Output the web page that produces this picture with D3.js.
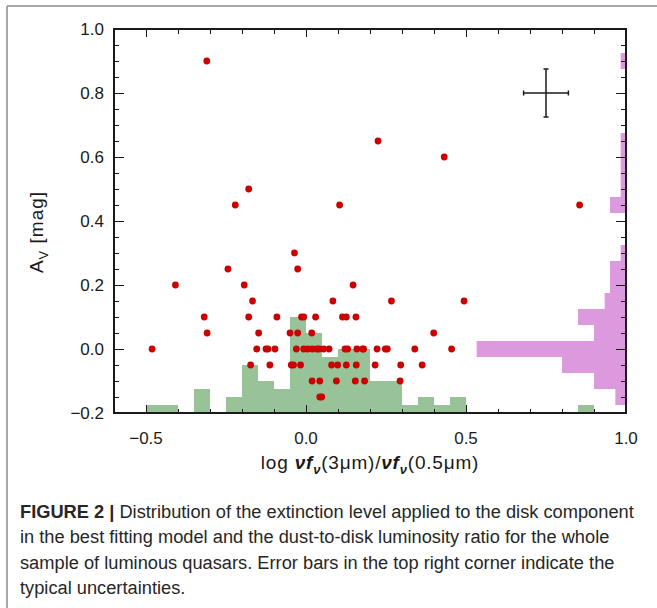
<!DOCTYPE html>
<html>
  <head>
    <script src="https://d3js.org/d3.v7.min.js"></script>
    <style>
      body { margin: 0; background: #fff; }
      .axis path, .axis line {
        fill: none;
        stroke: #1a1a1a;
        shape-rendering: crispEdges;
      }
      .tick-label {
        font-family: "Liberation Sans", sans-serif;
        font-size: 17px;
        fill: #1a1a1a;
      }
      .title {
        font-family: "Liberation Sans", sans-serif;
        font-size: 19px;
        fill: #1a1a1a;
      }
      .caption {
        font-family: "Liberation Sans", sans-serif;
        font-size: 19px;
        fill: #262626;
      }
    </style>
  </head>
  <body>
    <script>
      // scatter points: log nuFnu(3um)/nuFnu(0.5um) vs A_V
      const pointX = [-0.31, -0.221, -0.179, 0.105, 0.225, 0.432, 0.855,
        -0.036, -0.026, -0.244,
        -0.408, -0.193, 0.147,
        -0.167, 0.084, 0.267, 0.494,
        -0.318, -0.179, -0.091, -0.014, -0.007, 0.03, 0.114, 0.126, 0.156,
        -0.309, -0.148, -0.05, -0.026, 0.018, 0.399,
        -0.481, -0.154, -0.125, -0.119, -0.097, -0.03, -0.007, 0.005, 0.02, 0.034, 0.041, 0.055, 0.072,
        0.122, 0.13, 0.159, 0.177, 0.18, 0.222, 0.248, 0.254, 0.34, 0.455,
        -0.173, -0.113, -0.046, -0.039, -0.017, 0.08, 0.099, 0.126, 0.157, 0.216, 0.296, 0.363,
        0.019, 0.043, 0.095, 0.154, 0.183, 0.294,
        0.043, 0.049];
      const pointY = [0.9, 0.45, 0.5, 0.45, 0.65, 0.6, 0.45,
        0.3, 0.25, 0.25,
        0.2, 0.2, 0.2,
        0.15, 0.15, 0.15, 0.15,
        0.1, 0.1, 0.1, 0.1, 0.1, 0.1, 0.1, 0.1, 0.1,
        0.05, 0.05, 0.05, 0.05, 0.05, 0.05,
        0, 0, 0, 0, 0, 0, 0, 0, 0, 0, 0, 0, 0,
        0, 0, 0, 0, 0, 0, 0, 0, 0, 0,
        -0.05, -0.05, -0.05, -0.05, -0.05, -0.05, -0.05, -0.05, -0.05, -0.05, -0.05, -0.05,
        -0.1, -0.1, -0.1, -0.1, -0.1, -0.1,
        -0.15, -0.15];

      // histogram of x (lower bin edges, width 0.05)
      const xBinStart = [-0.5, -0.45, -0.35, -0.25, -0.2, -0.15, -0.1, -0.05, 0.0, 0.05, 0.1, 0.15,
        0.2, 0.25, 0.3, 0.35, 0.4, 0.45, 0.85];
      const xBinCount = [1, 1, 3, 2, 6, 4, 3, 12, 10, 7, 8, 8, 4, 4, 1, 2, 1, 2, 1];

      // histogram of A_V (bin centres, width 0.05)
      const yBinCenter = [0.9, 0.65, 0.6, 0.55, 0.5, 0.45, 0.3, 0.25, 0.2, 0.15, 0.1, 0.05, 0.0, -0.05, -0.1, -0.15];
      const yBinCount = [1, 1, 1, 1, 1, 3, 1, 3, 3, 4, 9, 6, 28, 12, 6, 2];

      const binW = 0.05;
      const errCenter = [0.75, 0.8];
      const errSize = [0.07, 0.075];

      const xMajor = [-0.5, 0.0, 0.5, 1.0];
      const yMajor = [-0.2, 0.0, 0.2, 0.4, 0.6, 0.8, 1.0];

      const width = 657, height = 608;
      const pLeft = 114, pRight = 626, pTop = 29, pBottom = 413;

      const x = d3.scaleLinear().domain([-0.6, 1.0]).range([pLeft, pRight]);
      const y = d3.scaleLinear().domain([-0.2, 1.0]).range([pBottom, pTop]);
      const xCount = d3.scaleLinear().domain([0, 48]).range([pBottom, pTop]);
      const yCount = d3.scaleLinear().domain([0, 96]).range([pRight, pLeft]);

      const svg = d3.select('body').append('svg')
        .attr('width', width)
        .attr('height', height);

      // page frame
      svg.append('line').attr('x1', 7).attr('x2', width).attr('y1', 6).attr('y2', 6)
        .attr('stroke', '#a8a8a8').attr('stroke-width', 2);
      svg.append('line').attr('x1', 7).attr('x2', 7).attr('y1', 6).attr('y2', height)
        .attr('stroke', '#a8a8a8').attr('stroke-width', 2);

      // green histogram
      svg.selectAll('.xbar')
        .data(xBinStart)
        .enter()
        .append('rect')
        .attr('class', 'xbar')
        .attr('x', d => x(d))
        .attr('width', d => x(d + binW) - x(d))
        .attr('y', (d, i) => xCount(xBinCount[i]))
        .attr('height', (d, i) => xCount(0) - xCount(xBinCount[i]))
        .attr('fill', '#98c298');

      // pink histogram
      svg.selectAll('.ybar')
        .data(yBinCenter)
        .enter()
        .append('rect')
        .attr('class', 'ybar')
        .attr('x', (d, i) => yCount(yBinCount[i]))
        .attr('width', (d, i) => yCount(0) - yCount(yBinCount[i]))
        .attr('y', d => y(d + binW / 2))
        .attr('height', d => y(d - binW / 2) - y(d + binW / 2))
        .attr('fill', '#dd99dd');

      // points
      svg.selectAll('.pt')
        .data(pointX)
        .enter()
        .append('circle')
        .attr('class', 'pt')
        .attr('cx', d => x(d))
        .attr('cy', (d, i) => y(pointY[i]))
        .attr('r', 3.4)
        .attr('fill', '#cc0000');

      // typical error bars
      const eb = svg.append('g').attr('stroke', '#1a1a1a').attr('stroke-width', 1.5);
      eb.append('line')
        .attr('x1', x(errCenter[0] - errSize[0])).attr('x2', x(errCenter[0] + errSize[0]))
        .attr('y1', y(errCenter[1])).attr('y2', y(errCenter[1]));
      eb.append('line')
        .attr('x1', x(errCenter[0])).attr('x2', x(errCenter[0]))
        .attr('y1', y(errCenter[1] - errSize[1])).attr('y2', y(errCenter[1] + errSize[1]));
      [-1, 1].forEach(s => {
        eb.append('line')
          .attr('x1', x(errCenter[0] + s * errSize[0])).attr('x2', x(errCenter[0] + s * errSize[0]))
          .attr('y1', y(errCenter[1]) - 2.5).attr('y2', y(errCenter[1]) + 2.5);
        eb.append('line')
          .attr('x1', x(errCenter[0]) - 2.5).attr('x2', x(errCenter[0]) + 2.5)
          .attr('y1', y(errCenter[1] + s * errSize[1])).attr('y2', y(errCenter[1] + s * errSize[1]));
      });

      // axes, ticks pointing inward
      const xMinor = d3.range(-5, 11).map(d => d / 10);
      const yMinor = d3.range(-4, 21).map(d => d / 20);

      function addAxis(gen, tr, ticks, size) {
        svg.append('g')
          .attr('class', 'axis')
          .attr('transform', tr)
          .call(gen.tickValues(ticks).tickSize(size).tickFormat(''))
          .call(g => g.select('.domain').remove());
      }
      addAxis(d3.axisBottom(x), `translate(0,${pBottom})`, xMinor, -4);
      addAxis(d3.axisBottom(x), `translate(0,${pBottom})`, xMajor, -8);
      addAxis(d3.axisTop(x), `translate(0,${pTop})`, xMinor, -5);
      addAxis(d3.axisTop(x), `translate(0,${pTop})`, xMajor, -8);
      addAxis(d3.axisLeft(y), `translate(${pLeft},0)`, yMinor, -5);
      addAxis(d3.axisLeft(y), `translate(${pLeft},0)`, yMajor, -10);
      addAxis(d3.axisRight(y), `translate(${pRight},0)`, yMinor, -5);
      addAxis(d3.axisRight(y), `translate(${pRight},0)`, yMajor, -10);

      svg.append('rect')
        .attr('x', pLeft).attr('y', pTop)
        .attr('width', pRight - pLeft).attr('height', pBottom - pTop)
        .attr('fill', 'none').attr('stroke', '#1a1a1a').attr('stroke-width', 2);

      const fmt = d => (d < 0 ? '\u2212' : '') + Math.abs(d).toFixed(1);

      svg.selectAll('.xl')
        .data(xMajor)
        .enter()
        .append('text')
        .attr('class', 'tick-label')
        .attr('x', d => x(d))
        .attr('y', 444)
        .attr('text-anchor', 'middle')
        .text(fmt);

      svg.selectAll('.yl')
        .data(yMajor)
        .enter()
        .append('text')
        .attr('class', 'tick-label')
        .attr('x', pLeft - 10)
        .attr('y', d => y(d) + 6)
        .attr('text-anchor', 'end')
        .text(fmt);

      // axis titles
      const yt = svg.append('text')
        .attr('class', 'title')
        .attr('transform', 'translate(43,232) rotate(-90)')
        .attr('text-anchor', 'middle')
        .attr('letter-spacing', 1);
      yt.append('tspan').text('A');
      yt.append('tspan').attr('font-size', 13).attr('dy', 5).text('V');
      yt.append('tspan').attr('dy', -5).text(' [mag]');

      const xt = svg.append('text')
        .attr('class', 'title')
        .attr('x', 370)
        .attr('y', 469)
        .attr('text-anchor', 'middle')
        .attr('letter-spacing', 0.8);
      xt.append('tspan').text('log  ');
      xt.append('tspan').attr('font-style', 'italic').attr('font-weight', 'bold').text('\u03bdf');
      xt.append('tspan').attr('font-style', 'italic').attr('font-weight', 'bold').attr('font-size', 13).attr('dy', 5).text('\u03bd');
      xt.append('tspan').attr('dy', -5).text('(3\u03bcm)/');
      xt.append('tspan').attr('font-style', 'italic').attr('font-weight', 'bold').text('\u03bdf');
      xt.append('tspan').attr('font-style', 'italic').attr('font-weight', 'bold').attr('font-size', 13).attr('dy', 5).text('\u03bd');
      xt.append('tspan').attr('dy', -5).text('(0.5\u03bcm)');

      // caption, condensed look
      const captionLines = [
        'Distribution of the extinction level applied to the disk component',
        'in the best fitting model and the dust-to-disk luminosity ratio for the whole',
        'sample of luminous quasars. Error bars in the top right corner indicate the',
        'typical uncertainties.'
      ];
      const cap = svg.append('g');
      captionLines.forEach((line, i) => {
        const t = cap.append('text')
          .attr('class', 'caption')
          .attr('x', 0)
          .attr('y', 518 + i * 25.5);
        if (i === 0) {
          t.append('tspan').attr('font-weight', 'bold').text('FIGURE 2 | ');
        }
        t.append('tspan').text(line);
      });
      const firstW = cap.select('text').node().getComputedTextLength();
      cap.attr('transform', `translate(20,0) scale(${614 / firstW},1)`);
    </script>
  </body>
</html>
